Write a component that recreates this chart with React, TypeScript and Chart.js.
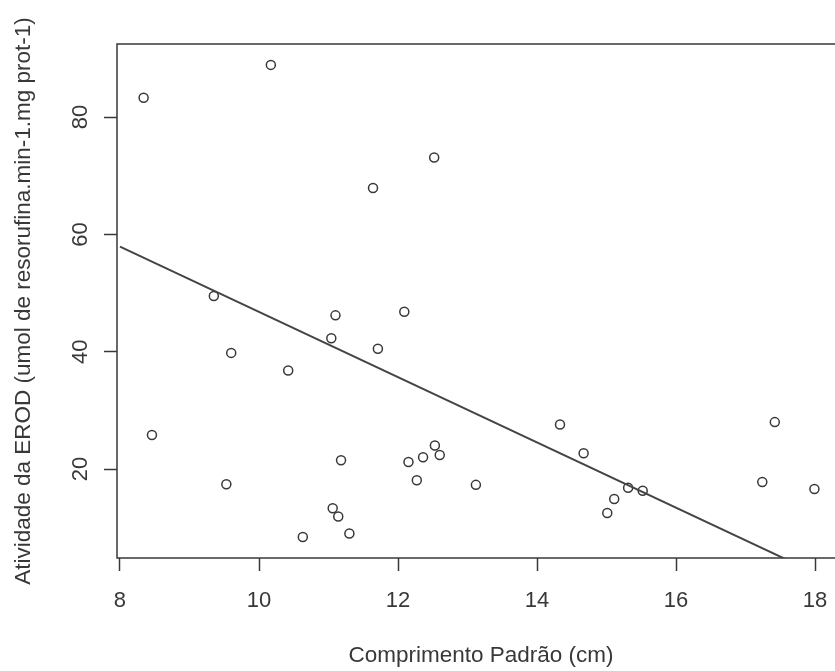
import React, { useEffect, useRef } from 'react';
import { Chart, registerables } from 'chart.js';

Chart.register(...registerables);

// Observed points: standard length (cm) vs EROD activity
const lengthCm = [
  8.34, 8.46, 10.17, 9.35, 9.60, 9.53, 10.42, 10.63, 11.04, 11.10,
  11.06, 11.14, 11.18, 11.30, 11.64, 11.71, 12.09, 12.15, 12.27, 12.36,
  12.53, 12.60, 12.52, 13.12, 14.33, 14.67, 15.01, 15.11, 15.31, 15.52,
  17.24, 17.42, 17.99,
];
const erodActivity = [
  83.3, 25.8, 88.9, 49.5, 39.8, 17.4, 36.8, 8.4, 42.3, 46.2,
  13.3, 11.9, 21.5, 9.0, 67.9, 40.5, 46.8, 21.2, 18.1, 22.0,
  24.0, 22.4, 73.1, 17.3, 27.6, 22.7, 12.5, 14.9, 16.8, 16.3,
  17.8, 28.0, 16.6,
];

// Fitted regression line end points
const fitLengthCm = [8.0, 17.6];
const fitActivity = [57.9, 4.5];

const xTickValues = [8, 10, 12, 14, 16, 18];
const yTickValues = [20, 40, 60, 80];

const xTitle = 'Comprimento Padrão (cm)';
const yTitle = 'Atividade da EROD (umol de resorufina.min-1.mg prot-1)';

const INK = '#383838';
const FONT = "'Liberation Sans', Arial, Helvetica, sans-serif";

const framePlugin = {
  id: 'frame',
  afterDatasetsDraw(chart: any) {
    const { ctx, chartArea } = chart;
    const { left, top, right, bottom } = chartArea;
    ctx.save();
    ctx.strokeStyle = INK;
    ctx.lineWidth = 1.5;
    ctx.strokeRect(left, top, right - left, bottom - top);
    ctx.restore();
  },
};

export default function App() {
  const canvasRef = useRef<HTMLCanvasElement | null>(null);

  useEffect(() => {
    if (!canvasRef.current) return;
    const points = lengthCm.map((x, i) => ({ x, y: erodActivity[i] }));
    const fit = fitLengthCm.map((x, i) => ({ x, y: fitActivity[i] }));

    const chart = new Chart(canvasRef.current, {
      type: 'scatter',
      data: {
        datasets: [
          {
            type: 'line',
            data: fit,
            borderColor: '#444444',
            borderWidth: 2,
            pointRadius: 0,
            fill: false,
          } as any,
          {
            data: points,
            pointStyle: 'circle',
            pointRadius: 4.5,
            pointBorderWidth: 1.5,
            borderColor: INK,
            backgroundColor: 'rgba(0,0,0,0)',
          } as any,
        ],
      },
      plugins: [framePlugin],
      options: {
        animation: false,
        responsive: false,
        maintainAspectRatio: false,
        layout: { padding: { left: 0, right: 15, top: 44, bottom: 0 } },
        plugins: {
          legend: { display: false },
          tooltip: { enabled: false },
        },
        scales: {
          x: {
            type: 'linear',
            min: 7.957,
            max: 18.43,
            afterBuildTicks: (scale: any) => {
              scale.ticks = xTickValues.map((v) => ({ value: v }));
            },
            afterFit: (scale: any) => {
              scale.height = 113;
            },
            border: { display: false },
            grid: {
              display: true,
              drawOnChartArea: false,
              drawTicks: true,
              tickLength: 13,
              tickColor: INK,
              tickWidth: 1.5,
            },
            ticks: {
              color: INK,
              padding: 17,
              maxRotation: 0,
              autoSkip: false,
              font: { family: FONT, size: 22 },
            },
            title: {
              display: true,
              text: xTitle,
              color: INK,
              padding: { top: 0, bottom: 2 },
              font: { family: FONT, size: 22.5 },
            },
          },
          y: {
            type: 'linear',
            min: 4.83,
            max: 92.46,
            afterBuildTicks: (scale: any) => {
              scale.ticks = yTickValues.map((v) => ({ value: v }));
            },
            afterFit: (scale: any) => {
              scale.width = 117;
            },
            border: { display: false },
            grid: {
              display: true,
              drawOnChartArea: false,
              drawTicks: true,
              tickLength: 13,
              tickColor: INK,
              tickWidth: 1.5,
            },
            ticks: {
              color: INK,
              padding: 11,
              minRotation: 90,
              maxRotation: 90,
              crossAlign: 'center',
              autoSkip: false,
              font: { family: FONT, size: 22 },
            },
            title: {
              display: true,
              text: yTitle,
              color: INK,
              padding: { top: 10, bottom: 0 },
              font: { family: FONT, size: 22.5 },
            },
          },
        },
      } as any,
    });

    return () => {
      chart.destroy();
    };
  }, []);

  return (
    <div
      style={{
        position: 'absolute',
        left: 0,
        top: 0,
        width: 835,
        height: 671,
        overflow: 'hidden',
        background: '#ffffff',
      }}
    >
      <canvas
        ref={canvasRef}
        width={860}
        height={671}
        style={{ width: 860, height: 671, display: 'block' }}
      />
    </div>
  );
}
